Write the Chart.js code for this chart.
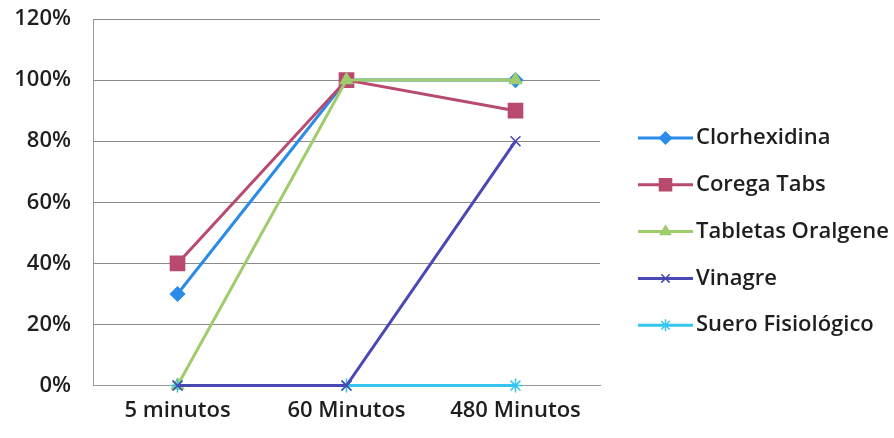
<!DOCTYPE html>
<html><head><meta charset="utf-8">
<script src="https://cdn.jsdelivr.net/npm/chart.js@4"></script>
<style>html,body{margin:0;padding:0;background:#fff}#wrap{width:894px;height:438px}</style>
</head><body><div id="wrap"><canvas id="c" width="894" height="438"></canvas></div>
<script>
const categories = ["5 minutos", "60 Minutos", "480 Minutos"];
const seriesNames = ["Clorhexidina", "Corega Tabs", "Tabletas Oralgene", "Vinagre", "Suero Fisiológico"];
const clorhexidina = [30, 100, 100];
const coregaTabs = [40, 100, 90];
const tabletasOralgene = [0, 100, 100];
const vinagre = [0, 0, 80];
const sueroFisiologico = [0, 0, 0];
const yTicks = [0, 20, 40, 60, 80, 100, 120];

const colors = ["#2a8ce8", "#b84a6e", "#9fcc6c", "#4a48b4", "#33c6ef"];
const markers = ["rectRot", "rect", "triangle", "crossRot", "star"];
const radii = [7, 10, 7, 7, 7];
const orders = [4, 3, 2, 0, 1];
const values = [clorhexidina, coregaTabs, tabletasOralgene, vinagre, sueroFisiologico];
const FONT = "'Open Sans', sans-serif";
const TXT = '#1e1e1e';

const datasets = seriesNames.map((n, i) => ({
  label: n, data: values[i], borderColor: colors[i], backgroundColor: colors[i],
  borderWidth: 3, pointStyle: markers[i], pointRadius: radii[i],
  pointBorderColor: colors[i], pointBackgroundColor: colors[i], pointBorderWidth: 1.5,
  order: orders[i], tension: 0, clip: false
}));

const legendPlugin = {
  id: 'sideLegend',
  beforeDraw(chart) {
    const ctx = chart.ctx;
    ctx.save(); ctx.fillStyle = '#fff'; ctx.fillRect(0, 0, chart.width, chart.height); ctx.restore();
  },
  afterDraw(chart) {
    const ctx = chart.ctx;
    const x0 = 638, lineLen = 55, y0 = 138, step = 46.8;
    ctx.save();
    chart.data.datasets.forEach((ds, i) => {
      const y = y0 + i * step;
      ctx.strokeStyle = ds.borderColor; ctx.fillStyle = ds.backgroundColor; ctx.lineWidth = 3;
      ctx.beginPath(); ctx.moveTo(x0, y); ctx.lineTo(x0 + lineLen, y); ctx.stroke();
      ctx.lineWidth = 1.5;
      Chart.helpers.drawPoint(ctx, {pointStyle: ds.pointStyle, radius: ds.pointRadius * 0.85, borderWidth: 1.5, rotation: 0}, x0 + lineLen / 2, y);
      ctx.fillStyle = TXT; ctx.font = "600 22px " + FONT;
      ctx.textAlign = 'left'; ctx.textBaseline = 'middle';
      ctx.fillText(ds.label, x0 + lineLen + 3, y);
    });
    ctx.restore();
  }
};

new Chart(document.getElementById('c'), {
  type: 'line',
  data: { labels: categories, datasets },
  plugins: [legendPlugin],
  options: {
    responsive: false, animation: false,
    layout: { autoPadding: false, padding: { left: 8, right: 294, top: 19, bottom: 2 } },
    plugins: { legend: { display: false }, tooltip: { enabled: false } },
    scales: {
      x: {
        offset: true,
        afterFit(scale) { scale.paddingLeft = 0; scale.paddingRight = 0; },
        grid: { display: false, drawTicks: false },
        border: { display: true, color: '#999', width: 1 },
        ticks: { font: { family: FONT, size: 22, weight: '600' }, color: TXT, padding: 12 }
      },
      y: {
        min: 0, max: 120,
        afterBuildTicks(scale) { scale.ticks = yTicks.map(v => ({ value: v })); },
        afterFit(scale) { scale.paddingTop = 0; scale.paddingBottom = 0; scale.width = 85; },
        grid: { color: '#8a8a8a', lineWidth: 1, drawTicks: false },
        border: { display: true, color: '#999', width: 1 },
        ticks: { font: { family: FONT, size: 22, weight: '600' }, color: TXT, padding: 22,
                 callback: v => v + '%' }
      }
    }
  }
});
</script></body></html>
